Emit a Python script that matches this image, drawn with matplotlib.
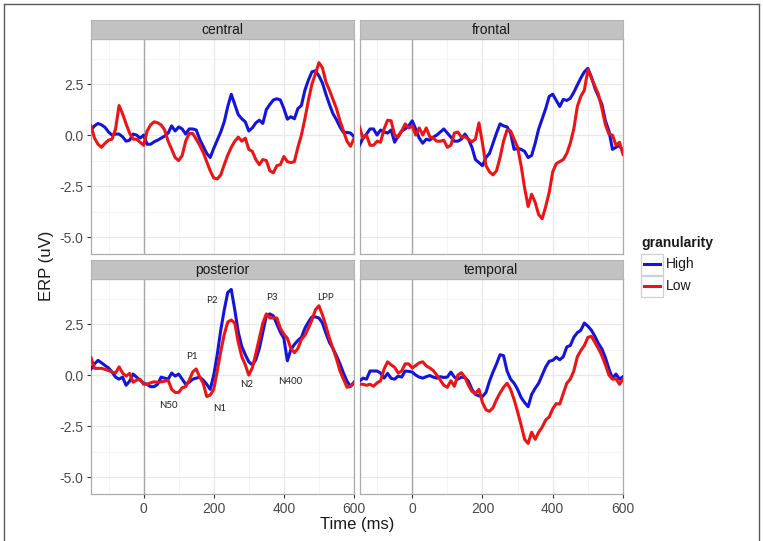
import numpy as np
import matplotlib
matplotlib.use("Agg")
import matplotlib.pyplot as plt
from matplotlib.lines import Line2D
from matplotlib.patches import Rectangle

plt.rcParams['font.family'] = ['Liberation Sans', 'DejaVu Sans']

# ---------------- data ----------------
time_ms = np.arange(-150, 601, 10)
regions = ["central", "frontal", "posterior", "temporal"]
levels = ["High", "Low"]
level_colors = ["#1414DC", "#EC1414"]

central_high = [
    0.25, 0.45, 0.57, 0.50, 0.38, 0.15, 0.00, 0.05, 0.05, -0.08,
    -0.30, -0.25, 0.05, 0.00, -0.15, 0.00, -0.45, -0.45, -0.33, -0.25,
    -0.15, -0.05, 0.10, 0.45, 0.20, 0.40, 0.30, 0.05, 0.30, 0.30,
    0.25, -0.20, -0.55, -0.90, -1.10, -0.65, -0.25, 0.15, 0.65, 1.40,
    2.00, 1.50, 1.00, 0.80, 0.65, 0.20, 0.35, 0.60, 0.73, 0.57,
    1.25, 1.50, 1.72, 1.78, 1.72, 1.30, 0.78, 0.90, 0.80, 1.30,
    1.45, 2.20, 2.70, 3.10, 3.15, 2.90, 2.55, 2.00, 1.50, 1.05,
    0.75, 0.40, 0.13, 0.13, 0.10, -0.08]
central_low = [
    0.45, -0.15, -0.45, -0.60, -0.40, -0.25, -0.20, 0.30, 1.45, 1.05,
    0.55, 0.10, -0.20, -0.20, -0.35, -0.50, 0.20, 0.50, 0.65, 0.60,
    0.50, 0.25, -0.30, -0.70, -1.10, -1.25, -1.00, -0.30, 0.08, 0.08,
    -0.20, -0.50, -0.85, -1.30, -1.75, -2.10, -2.15, -1.95, -1.45, -0.98,
    -0.60, -0.30, -0.10, -0.30, -0.15, -0.70, -0.80, -1.20, -1.45, -1.20,
    -1.25, -1.75, -1.85, -1.50, -1.45, -1.05, -1.30, -1.35, -1.30, -0.60,
    0.00, 0.80, 1.70, 2.50, 3.00, 3.55, 3.30, 2.60, 2.20, 1.75,
    1.30, 0.70, 0.20, -0.30, -0.55, -0.16]
frontal_high = [
    -0.50, -0.15, 0.05, 0.30, 0.30, 0.00, 0.25, 0.15, 0.10, 0.25,
    -0.35, -0.05, 0.20, 0.30, 0.45, 0.70, 0.30, -0.15, -0.40, -0.20,
    -0.25, -0.10, 0.00, 0.15, 0.30, 0.10, -0.10, -0.30, -0.30, -0.20,
    0.05, -0.20, -0.60, -1.20, -1.35, -1.50, -1.10, -0.90, -0.40, 0.10,
    0.55, 0.45, 0.40, 0.10, -0.70, -0.65, -0.70, -0.80, -1.10, -1.00,
    -0.40, 0.30, 0.80, 1.30, 1.90, 2.00, 1.70, 1.40, 1.75, 1.70,
    1.80, 2.10, 2.45, 2.80, 3.10, 3.27, 2.85, 2.30, 1.90, 1.50,
    0.70, 0.20, -0.70, -0.60, -0.50, -0.80]
frontal_low = [
    0.40, -0.15, 0.00, -0.50, -0.50, -0.30, -0.35, 0.30, 0.73, 0.70,
    0.00, -0.10, 0.20, 0.55, 0.35, 0.45, 0.00, 0.35, 0.00, 0.35,
    -0.08, -0.15, -0.30, -0.30, -0.25, -0.60, -0.50, 0.10, 0.15, -0.10,
    -0.08, -0.20, -0.33, -0.20, 0.60, -0.40, -1.50, -1.80, -1.95, -1.75,
    -1.10, -0.30, 0.25, 0.20, -0.20, -0.60, -1.50, -2.60, -3.50, -2.90,
    -3.30, -3.90, -4.10, -3.50, -2.80, -1.80, -1.40, -1.30, -1.20, -0.90,
    -0.40, 0.30, 1.40, 1.90, 2.20, 3.20, 2.80, 2.40, 2.00, 1.30,
    0.50, 0.05, 0.00, -0.50, -0.35, -0.95]
posterior_high = [
    0.30, 0.55, 0.72, 0.60, 0.47, 0.35, 0.15, -0.10, -0.20, -0.10,
    -0.50, -0.30, 0.05, -0.10, -0.25, -0.40, -0.45, -0.57, -0.57, -0.45,
    -0.10, -0.15, -0.20, 0.10, -0.05, 0.05, -0.20, -0.45, -0.35, -0.20,
    -0.15, -0.10, -0.25, -0.45, -0.70, 0.00, 1.00, 2.20, 3.20, 4.05,
    4.20, 3.20, 2.10, 1.40, 1.00, 0.65, 0.50, 0.75, 1.30, 2.10,
    2.90, 3.00, 2.90, 2.50, 2.10, 1.80, 0.70, 1.25, 1.50, 1.70,
    1.85, 2.30, 2.60, 2.85, 2.85, 2.80, 2.55, 2.05, 1.60, 1.30,
    0.95, 0.55, 0.10, -0.30, -0.55, -0.35]
posterior_low = [
    0.85, 0.33, 0.33, 0.33, 0.28, 0.22, 0.15, 0.10, 0.40, 0.10,
    -0.05, 0.08, -0.35, -0.25, -0.20, -0.45, -0.45, -0.38, -0.33, -0.35,
    -0.33, -0.30, -0.25, -0.70, -0.85, -0.85, -0.62, -0.57, -0.25, 0.15,
    0.30, -0.10, -0.40, -1.05, -0.98, -0.70, 0.20, 1.15, 2.00, 2.60,
    2.70, 2.55, 1.60, 0.90, 0.50, 0.00, 0.35, 1.05, 1.80, 2.55,
    3.00, 2.80, 2.80, 2.80, 2.30, 2.00, 1.80, 1.30, 1.10, 1.30,
    1.75, 1.95, 2.30, 2.70, 3.20, 3.40, 2.95, 2.40, 1.80, 1.30,
    0.80, 0.20, -0.20, -0.60, -0.55, -0.40]
temporal_high = [
    -0.30, -0.15, -0.20, 0.20, 0.20, 0.20, 0.10, -0.15, 0.08, -0.16,
    -0.20, -0.05, -0.10, 0.20, 0.18, 0.15, 0.00, -0.10, -0.15, -0.08,
    -0.02, -0.10, -0.15, -0.08, -0.12, -0.10, 0.15, -0.10, -0.20, -0.10,
    -0.12, -0.30, -0.70, -0.95, -1.02, -1.05, -0.85, -0.30, 0.15, 0.55,
    1.00, 0.95, 0.20, -0.20, -0.40, -0.70, -1.10, -1.35, -1.55, -0.95,
    -0.65, -0.40, 0.00, 0.40, 0.68, 0.72, 0.88, 0.75, 0.90, 1.38,
    1.45, 1.85, 2.08, 2.20, 2.55, 2.40, 2.20, 1.90, 1.55, 1.28,
    0.85, 0.30, -0.15, 0.05, -0.20, -0.08]
temporal_low = [
    -0.45, -0.45, -0.50, -0.45, -0.55, -0.38, -0.28, 0.30, 0.65, 0.50,
    0.38, 0.10, 0.20, 0.55, 0.55, 0.35, 0.47, 0.60, 0.65, 0.45,
    0.35, 0.22, 0.00, -0.25, -0.50, -0.60, -0.28, -0.55, 0.00, 0.12,
    -0.10, -0.50, -0.80, -0.90, -0.70, -1.35, -1.70, -1.78, -1.60, -1.20,
    -0.88, -0.60, -0.40, -0.70, -1.20, -1.80, -2.45, -3.15, -3.35, -2.80,
    -3.15, -2.80, -2.55, -2.20, -2.05, -1.65, -1.40, -1.42, -0.90, -0.40,
    -0.20, 0.20, 0.90, 1.20, 1.45, 1.85, 1.90, 1.60, 1.30, 0.95,
    0.50, 0.00, -0.20, -0.18, -0.45, -0.20]

series = {
    ("central", "High"): central_high, ("central", "Low"): central_low,
    ("frontal", "High"): frontal_high, ("frontal", "Low"): frontal_low,
    ("posterior", "High"): posterior_high, ("posterior", "Low"): posterior_low,
    ("temporal", "High"): temporal_high, ("temporal", "Low"): temporal_low,
}

component_labels = ["N50", "P1", "N1", "P2", "N2", "P3", "N400", "LPP"]
component_ms = [70, 137, 217, 194, 293, 365, 417, 518]
component_uv = [-1.5, 0.93, -1.63, 3.65, -0.46, 3.78, -0.33, 3.78]

x_ticks = [0, 200, 400, 600]
y_ticks = [-5.0, -2.5, 0.0, 2.5]
y_ticklabels = ["-5.0", "-2.5", "0.0", "2.5"]

# ---------------- layout ----------------
W, H = 763, 541
fig = plt.figure(figsize=(W / 100, H / 100), dpi=100)
fig.patch.set_facecolor("white")


def frect(x0, y0, x1, y1):
    return [x0 / W, 1 - y1 / H, (x1 - x0) / W, (y1 - y0) / H]


panel_px = {
    "central": (91, 39, 354, 254),
    "frontal": (359.5, 39, 623, 254),
    "posterior": (91, 279, 354, 494),
    "temporal": (359.5, 279, 623, 494),
}
strip_h = 19.5
border_col = "#ABABAB"

for region in regions:
    x0, y0, x1, y1 = panel_px[region]
    ax = fig.add_axes(frect(x0, y0, x1, y1))
    ax.set_facecolor("white")
    ax.set_xlim(-150, 600)
    ax.set_ylim(-5.83, 4.71)
    ax.set_xticks([-100, 100, 300, 500], minor=True)
    ax.set_yticks([-3.75, -1.25, 1.25, 3.75], minor=True)
    ax.set_xticks(x_ticks)
    ax.set_yticks(y_ticks)
    ax.grid(True, which="major", color="#E8E8E8", lw=0.9)
    ax.grid(True, which="minor", color="#F3F3F3", lw=0.6)
    ax.set_axisbelow(True)
    for sp in ax.spines.values():
        sp.set_color(border_col)
        sp.set_linewidth(0.9)
    ax.axvline(0, color="#A8A8A8", lw=1.0, zorder=1)
    for lev, col in zip(levels, level_colors):
        ax.plot(time_ms, series[(region, lev)], color=col, lw=2.2, zorder=3,
                solid_joinstyle="round")

    left = region in ("central", "posterior")
    bottom = region in ("posterior", "temporal")
    ax.tick_params(which="minor", length=0)
    ax.tick_params(axis="y", which="major", length=3, width=0.8, color="#333333",
                   labelsize=10, labelcolor="#4A4A4A", pad=2.5, left=left, labelleft=left)
    ax.tick_params(axis="x", which="major", length=3, width=0.8, color="#333333",
                   labelsize=10, labelcolor="#4A4A4A", pad=2.5, bottom=bottom, labelbottom=bottom)
    if left:
        ax.set_yticklabels(y_ticklabels)

    if region == "posterior":
        for lab, xm, yv in zip(component_labels, component_ms, component_uv):
            ax.text(xm, yv, lab, ha="center", va="center", fontsize=7,
                    family=["Lato", "DejaVu Sans"], color="#222222", zorder=4)

    # strip
    sax = fig.add_axes(frect(x0, y0 - strip_h, x1, y0))
    sax.set_facecolor("#C2C2C2")
    sax.set_xticks([])
    sax.set_yticks([])
    for sp in sax.spines.values():
        sp.set_color("#B4B4B4")
        sp.set_linewidth(0.8)
    sax.text(0.5, 0.47, region, ha="center", va="center", fontsize=10,
             color="#1A1A1A", transform=sax.transAxes)

# axis titles
fig.text(357 / W, 1 - 524 / H, "Time (ms)", ha="center", va="center", fontsize=12, color="#1A1A1A")
fig.text(46 / W, 1 - 266 / H, "ERP (uV)", ha="center", va="center", fontsize=12,
         rotation=90, color="#1A1A1A")

# legend
fig.text(641 / W, 1 - 243 / H, "granularity", ha="left", va="center", fontsize=10,
         fontweight="bold", color="#1A1A1A")
for i, (lev, col) in enumerate(zip(levels, level_colors)):
    ky0 = 253.5 + i * 22
    fig.add_artist(Rectangle((641 / W, 1 - (ky0 + 21.5) / H), 21.5 / W, 21.5 / H,
                             transform=fig.transFigure, facecolor="white",
                             edgecolor="#CFCFCF", lw=0.9))
    yc = 1 - (ky0 + 10.75) / H
    fig.add_artist(Line2D([643.5 / W, 660 / W], [yc, yc], transform=fig.transFigure,
                          color=col, lw=2.2))
    fig.text(666 / W, yc, lev, ha="left", va="center", fontsize=10, color="#1A1A1A")

# outer frame
fc = "#5A5A5A"
fig.add_artist(Line2D([3.5 / W, 3.5 / W], [0, 1 - 3.5 / H], transform=fig.transFigure, color=fc, lw=1.0))
fig.add_artist(Line2D([3.5 / W, 758.5 / W], [1 - 3.5 / H, 1 - 3.5 / H], transform=fig.transFigure, color=fc, lw=1.0))
fig.add_artist(Line2D([758.5 / W, 758.5 / W], [0, 1 - 3.5 / H], transform=fig.transFigure, color=fc, lw=1.0))

fig.savefig("out.png", dpi=100)
